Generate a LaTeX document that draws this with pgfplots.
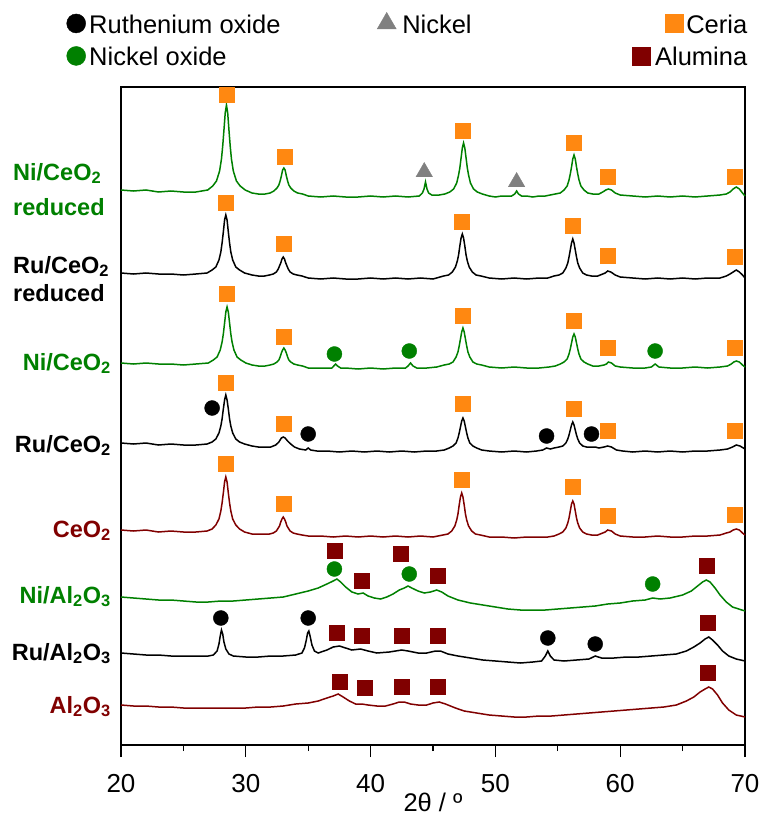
\documentclass[border=0pt]{standalone}
\usepackage{pgfplots}
\pgfplotsset{compat=1.18}
\usepackage{fontspec}
\setmainfont{Liberation Sans}
\definecolor{cgreen}{RGB}{0,128,0}
\definecolor{cred}{RGB}{128,0,0}
\definecolor{corange}{RGB}{255,136,17}
\definecolor{cgray}{RGB}{128,128,128}
\newcommand\fs{\fontsize{23.5bp}{28bp}\selectfont}
\newcommand\lf{\fontsize{25.5bp}{30bp}\selectfont\strut}
\begin{document}
\begin{tikzpicture}
\path[use as bounding box] (-121bp,-75bp) rectangle (641bp,745bp);
\begin{axis}[
  at={(0,0)}, anchor=south west,
  scale only axis, width=624bp, height=658bp,
  xmin=20, xmax=70, ymin=87, ymax=745, y dir=reverse,
  clip=false,
  xtick={20,30,...,70}, minor x tick num=1, xtick pos=left,
  ytick=\empty,
  tick align=outside,
  major tick length=12bp, minor tick length=6bp,
  every tick/.style={black, line width=1.3bp},
  axis line style={line width=1.7bp},
  /pgf/number format/assume math mode=true,
  xticklabel style={font=\fontsize{26bp}{30bp}\selectfont, yshift=-14bp},
  xlabel={2θ / º},
  xlabel style={at={(axis description cs:0.5,0)}, anchor=center, yshift=-57bp, font=\fontsize{25.5bp}{30bp}\selectfont},
  legend image code/.code={\draw[#1] plot coordinates {(0bp,0bp)};},
  legend columns=3,
  legend cell align=left,
  legend style={draw=none, fill=none, inner sep=0pt,
    at={(axis description cs:0,1)}, anchor=north west, xshift=-54.5bp, yshift=75bp,
    nodes={inner sep=0pt}, row sep=10bp, column sep=0pt},
]
\addlegendimage{mark=*, black, mark size=9.5bp}
\addlegendentry{\makebox[291.5bp][l]{\lf\hspace{3.5bp}Ruthenium oxide}}
\addlegendimage{mark=triangle*, cgray, mark size=11bp}
\addlegendentry{\makebox[236bp][l]{\lf\hspace{6bp}Nickel}}
\addlegendimage{legend image code/.code={\path[draw=none, fill=none] (-9bp,-9bp) rectangle (9bp,9bp); \draw[overlay, corange, mark=square*, mark size=9bp] plot coordinates {(33bp,0bp)};}}
\addlegendentry{\makebox[97bp][r]{\lf Ceria}}
\addlegendimage{mark=*, cgreen, mark size=9.5bp}
\addlegendentry{\makebox[291.5bp][l]{\lf\hspace{3.5bp}Nickel oxide}}
\addlegendimage{empty legend}
\addlegendentry{}
\addlegendimage{mark=square*, cred, mark size=9bp}
\addlegendentry{\makebox[97bp][r]{\lf Alumina}}

% T1 Ni/CeO2 reduced
\addplot[cgreen, line width=1.5bp, forget plot] coordinates {(20,190)(21,191)(22,190)(23,192)(24,191)(25,192)(26,192)(26.95,190)(27.35,186)(27.65,181)(27.9,171)(28.05,159)(28.15,146)(28.25,130)(28.35,113)(28.45,105)(28.55,113)(28.65,130)(28.75,146)(28.85,159)(29.0,171)(29.25,181)(29.55,186)(29.95,190)(30.5,193)(31,194)(31.55,194)(31.95,193)(32.25,191)(32.5,188)(32.65,185)(32.75,181)(32.85,176)(32.95,170)(33.05,168)(33.15,170)(33.25,176)(33.35,181)(33.45,185)(33.6,188)(33.85,191)(34.15,193)(34.55,194)(35,196)(36,197)(37,196)(38,197)(39,197)(40,196)(41,197)(42,196)(43,197)(43.9,196)(44.15,193)(44.28,189)(44.4,182)(44.52,189)(44.65,193)(44.9,195)(45.5,195)(45.95,194)(46.35,192)(46.65,189)(46.9,183)(47.05,175)(47.15,168)(47.25,158)(47.35,148)(47.45,143)(47.55,148)(47.65,158)(47.75,168)(47.85,175)(48.0,183)(48.25,189)(48.55,192)(48.95,194)(49.5,196)(50,197)(50.5,196)(51.3,196)(51.55,194)(51.7,191)(51.85,194)(52.1,196)(52.5,196)(53,197)(53.5,196)(54,196)(54.8,194)(55.2,193)(55.5,190)(55.75,186)(55.9,180)(56.0,174)(56.1,167)(56.2,159)(56.3,155)(56.4,159)(56.5,167)(56.6,174)(56.7,180)(56.85,186)(57.1,190)(57.4,193)(57.8,194)(58.3,194)(58.6,192)(58.85,190)(59.05,189)(59.3,190)(59.6,193)(60,195)(61,196)(62,197)(63,196)(64,197)(65,196)(66,197)(67,196)(68,195)(68.5,194)(68.8,192)(69.05,189)(69.3,187)(69.55,189)(69.8,193)(70,196)};
% T2 Ru/CeO2 reduced
\addplot[black, line width=1.5bp, forget plot] coordinates {(20,273)(21,274)(22,273)(23,274)(24,274)(25,275)(26,274)(26.9,273)(27.3,270)(27.6,267)(27.85,260)(28.0,252)(28.1,243)(28.2,232)(28.3,220)(28.4,215)(28.5,220)(28.6,232)(28.7,243)(28.8,252)(28.95,260)(29.2,267)(29.5,270)(29.9,273)(30.5,275)(31,276)(31.5,276)(31.9,275)(32.2,274)(32.45,272)(32.6,269)(32.7,266)(32.8,263)(32.9,259)(33.0,257)(33.1,259)(33.2,263)(33.3,266)(33.4,269)(33.55,272)(33.8,274)(34.1,275)(34.5,276)(35,278)(36,279)(37,278)(38,279)(39,279)(40,278)(41,279)(42,278)(43,279)(44,278)(45,279)(45.85,276)(46.25,275)(46.55,272)(46.8,267)(46.95,261)(47.05,255)(47.15,246)(47.25,238)(47.35,234)(47.45,238)(47.55,246)(47.65,255)(47.75,261)(47.9,267)(48.15,272)(48.45,275)(48.85,276)(49.5,278)(50.5,279)(51.5,278)(52.5,279)(53.5,278)(54.2,278)(54.7,276)(55.1,275)(55.4,273)(55.65,268)(55.8,263)(55.9,257)(56.0,250)(56.1,243)(56.2,239)(56.3,243)(56.4,250)(56.5,257)(56.6,263)(56.75,268)(57.0,273)(57.3,275)(57.7,276)(58.2,276)(58.6,274)(58.8,273)(59.0,271)(59.25,272)(59.6,275)(60,277)(61,278)(62,279)(63,278)(64,279)(65,278)(66,279)(67,278)(68,278)(68.5,276)(68.8,274)(69.05,272)(69.3,270)(69.55,272)(69.8,275)(70,278)};
% T3 Ni/CeO2
\addplot[cgreen, line width=1.5bp, forget plot] coordinates {(20,363)(21,364)(22,363)(23,364)(24,364)(25,365)(26,364)(27.0,363)(27.4,360)(27.7,357)(27.95,350)(28.1,342)(28.2,334)(28.3,323)(28.4,312)(28.5,307)(28.6,312)(28.7,323)(28.8,334)(28.9,342)(29.05,350)(29.3,357)(29.6,360)(30.0,363)(30.5,365)(31,366)(31.55,366)(31.95,365)(32.25,364)(32.5,362)(32.65,360)(32.75,357)(32.85,353)(32.95,350)(33.05,348)(33.15,350)(33.25,353)(33.35,357)(33.45,360)(33.6,362)(33.85,364)(34.15,365)(34.55,366)(35,368)(36,368)(36.9,368)(37.05,366)(37.2,364)(37.35,366)(37.6,368)(38,368)(39,369)(40,368)(41,369)(42,368)(42.8,368)(43.0,366)(43.2,363)(43.4,366)(43.7,368)(44.5,368)(45.3,367)(45.9,365)(46.3,364)(46.6,362)(46.85,357)(47.0,352)(47.1,346)(47.2,339)(47.3,332)(47.4,328)(47.5,332)(47.6,339)(47.7,346)(47.8,352)(47.95,357)(48.2,362)(48.5,364)(48.9,365)(49.5,367)(50.5,368)(51.5,367)(52.5,368)(53.5,368)(54.3,367)(54.8,366)(55.2,364)(55.5,362)(55.75,359)(55.9,354)(56.0,349)(56.1,343)(56.2,337)(56.3,334)(56.4,337)(56.5,343)(56.6,349)(56.7,354)(56.85,359)(57.1,362)(57.4,364)(57.8,366)(58.3,366)(58.7,365)(58.9,364)(59.05,362)(59.3,363)(59.6,366)(60,367)(61,368)(62,368)(62.5,367)(62.8,364)(63.1,367)(64,368)(65,368)(66,367)(67,368)(68,367)(68.6,366)(68.9,364)(69.1,362)(69.3,361)(69.55,362)(69.8,365)(70,367)};
% T4 Ru/CeO2
\addplot[black, line width=1.5bp, forget plot] coordinates {(20,443)(21,444)(22,443)(23,445)(24,444)(25,445)(26,445)(26.9,444)(27.3,442)(27.6,439)(27.85,433)(28.0,426)(28.1,419)(28.2,409)(28.3,400)(28.4,395)(28.5,400)(28.6,409)(28.7,419)(28.8,426)(28.95,433)(29.2,439)(29.5,442)(29.9,444)(30.5,446)(31,447)(31.5,447)(32.0,447)(32.4,445)(32.65,442)(32.85,438)(33.0,437)(33.15,438)(33.35,441)(33.6,444)(33.9,447)(34.3,449)(34.8,450)(35.0,448)(35.2,450)(35.7,451)(36.5,451)(37.5,452)(38.5,451)(39.5,452)(40.5,451)(41.5,452)(42.5,451)(43.5,452)(44.5,451)(45.3,451)(45.9,450)(46.3,448)(46.6,446)(46.85,443)(47.0,438)(47.1,433)(47.2,427)(47.3,421)(47.4,418)(47.5,421)(47.6,427)(47.7,433)(47.8,438)(47.95,443)(48.2,446)(48.5,448)(48.9,450)(49.5,451)(50.5,452)(51.5,451)(52.5,452)(53.3,451)(53.8,450)(54.1,448)(54.4,449)(54.7,448)(55.1,447)(55.4,446)(55.65,443)(55.8,439)(55.9,435)(56.0,430)(56.1,425)(56.2,422)(56.3,425)(56.4,430)(56.5,435)(56.6,439)(56.75,443)(57.0,446)(57.3,447)(57.7,447)(58.0,447)(58.3,448)(58.7,447)(59.0,446)(59.3,447)(59.7,450)(60.2,451)(61,452)(62,451)(63,452)(64,451)(65,452)(66,451)(67,451)(68,450)(68.6,449)(69.0,447)(69.3,445)(69.6,446)(70,449)};
% T5 CeO2
\addplot[cred, line width=1.5bp, forget plot] coordinates {(20,530)(21,531)(22,530)(23,532)(24,531)(25,532)(26,532)(26.9,531)(27.3,529)(27.6,525)(27.85,519)(28.0,511)(28.1,503)(28.2,493)(28.3,482)(28.4,477)(28.5,482)(28.6,493)(28.7,503)(28.8,511)(28.95,519)(29.2,525)(29.5,529)(29.9,532)(30.5,534)(31,534)(31.5,534)(31.9,534)(32.2,533)(32.45,531)(32.6,528)(32.7,526)(32.8,522)(32.9,519)(33.0,517)(33.1,519)(33.2,522)(33.3,526)(33.4,528)(33.55,531)(33.8,533)(34.1,534)(34.5,535)(35,536)(36,536)(37,537)(38,536)(39,537)(40,536)(41,537)(42,536)(43,537)(44,536)(45,537)(45.8,535)(46.2,534)(46.5,531)(46.75,526)(46.9,520)(47.0,514)(47.1,505)(47.2,497)(47.3,493)(47.4,497)(47.5,505)(47.6,514)(47.7,520)(47.85,526)(48.1,531)(48.4,534)(48.8,535)(49.5,537)(50.5,537)(51.5,538)(52.5,537)(53.5,537)(54.2,537)(54.7,536)(55.1,534)(55.4,532)(55.65,528)(55.8,523)(55.9,518)(56.0,511)(56.1,504)(56.2,501)(56.3,504)(56.4,511)(56.5,518)(56.6,523)(56.75,528)(57.0,532)(57.3,534)(57.7,535)(58.2,535)(58.6,533)(58.8,532)(59.0,530)(59.3,531)(59.6,534)(60,536)(61,537)(62,537)(63,536)(64,537)(65,537)(66,536)(67,536)(68,535)(68.5,533)(68.8,532)(69.05,530)(69.3,529)(69.55,530)(69.8,533)(70,535)};
% T6 Ni/Al2O3
\addplot[cgreen, line width=1.5bp, forget plot] coordinates {(20,597)(21,598)(22,599)(23,600)(24,600)(25,601)(26,602)(27,602)(28,601)(29,601)(30,600)(31,599)(32,598)(33,597)(34,594)(35,591)(35.8,588)(36.5,584)(37.0,581)(37.3,579)(37.6,582)(38.0,587)(38.5,592)(39.0,594)(39.4,593)(39.8,596)(40.3,598)(40.8,599)(41.3,597)(41.8,594)(42.3,590)(42.7,588)(43.0,586)(43.3,588)(43.8,591)(44.3,593)(44.8,592)(45.3,590)(45.7,592)(46.2,596)(47,600)(48,603)(49,605)(50,607)(51,609)(52,610)(53,610)(54,610)(55,609)(56,608)(57,607)(58,606)(59,604)(60,603)(61,601)(62,600)(62.6,598)(63.2,599)(64,598)(65,595)(65.7,591)(66.2,586)(66.6,582)(66.9,580)(67.2,582)(67.6,588)(68.0,595)(68.5,602)(69,607)(69.5,609)(70,611)};
% T7 Ru/Al2O3
\addplot[black, line width=1.5bp, forget plot] coordinates {(20,653)(21,654)(22,655)(23,655)(24,656)(25,656)(26,656)(27,656)(27.4,655)(27.7,651)(27.85,644)(27.95,636)(28.05,630)(28.15,634)(28.25,642)(28.4,649)(28.65,654)(29,656)(30,657)(31,657)(32,656)(33,656)(34,655)(34.5,653)(34.7,648)(34.85,640)(34.95,633)(35.05,631)(35.15,636)(35.3,645)(35.5,651)(35.8,653)(36.5,650)(37.0,647)(37.5,646)(38,648)(38.5,650)(39.2,649)(39.8,651)(40.5,653)(41.5,652)(42.0,651)(42.5,650)(43.0,651)(43.8,653)(44.5,653)(45.2,651)(45.6,651)(46.2,654)(47,656)(48,658)(49,660)(50,661)(51,662)(52,663)(53,662)(53.7,661)(54.0,656)(54.2,651)(54.4,656)(54.7,660)(55.5,661)(56.5,660)(57.5,659)(58.0,656)(58.5,658)(59.5,658)(60.5,657)(61.5,657)(62.5,656)(63.5,655)(64.5,654)(65.3,651)(65.9,647)(66.4,643)(66.8,639)(67.1,637)(67.4,640)(67.8,645)(68.2,651)(68.7,656)(69.3,659)(70,661)};
% T8 Al2O3
\addplot[cred, line width=1.5bp, forget plot] coordinates {(20,705)(21,706)(22,706)(23,707)(24,707)(25,708)(26,708)(27,708)(28,708)(29,708)(30,708)(31,707)(32,707)(33,706)(34,704)(35,703)(35.8,701)(36.5,698)(37.0,696)(37.4,694)(37.8,697)(38.3,701)(38.8,704)(39.3,704)(39.8,705)(40.5,706)(41.2,706)(41.8,704)(42.3,702)(42.7,702)(43.2,704)(43.8,705)(44.5,705)(45.0,703)(45.5,702)(46,704)(46.8,708)(47.5,711)(48.5,713)(49.5,715)(50.5,716)(51.5,717)(52.5,717)(53.5,716)(54.5,716)(55.5,715)(56.5,714)(57.5,713)(58.5,712)(59.5,711)(60.5,710)(61.5,709)(62.5,708)(63.5,707)(64.5,705)(65.3,701)(65.9,697)(66.4,692)(66.8,689)(67.1,687)(67.4,689)(67.8,695)(68.2,703)(68.7,710)(69.3,715)(70,717)};

% Ceria markers
\addplot[only marks, mark=square*, color=corange, mark size=7.5bp, forget plot] coordinates {
(28.5,95)(33.1,157)(47.4,131)(56.3,143)(59.0,177)(69.2,177)
(28.4,203)(33.0,244)(47.3,222)(56.2,226)(59.0,256)(69.2,257)
(28.5,294)(33.0,337)(47.4,316)(56.3,321)(59.0,348)(69.2,348)
(28.4,383)(33.0,424)(47.4,404)(56.3,409)(59.0,431)(69.2,431)
(28.4,464)(33.0,504)(47.3,480)(56.2,487)(59.0,516)(69.2,515)};
% Nickel markers
\addplot[only marks, mark=triangle*, color=cgray, mark size=9.5bp, forget plot] coordinates {(44.3,172)(51.7,182)};
% NiO markers
\addplot[only marks, mark=*, color=cgreen, mark size=7.5bp, forget plot] coordinates {(37.1,354)(43.1,351)(62.8,351)(37.1,569)(43.1,574)(62.6,584)};
% RuO2 markers
\addplot[only marks, mark=*, color=black, mark size=7.5bp, forget plot] coordinates {(27.3,408)(35.0,434)(54.1,436)(57.7,434)(28.0,618)(35.0,618)(54.2,638)(58.0,644)};
% Alumina markers
\addplot[only marks, mark=square*, color=cred, mark size=7.5bp, forget plot] coordinates {
(37.1,551)(39.3,581)(42.4,554)(45.4,576)(66.9,566)
(37.3,633)(39.3,636)(42.5,636)(45.4,636)(67.0,623)
(37.5,682)(39.5,688)(42.5,687)(45.4,687)(67.0,673)};

% sample labels
\begin{scope}[every node/.style={font=\fs\bfseries, inner sep=0pt}]
\node[anchor=base west, cgreen] at (axis cs:20,180) [xshift=-108bp] {Ni/CeO\textsubscript{2}};
\node[anchor=base west, cgreen] at (axis cs:20,215) [xshift=-108bp] {reduced};
\node[anchor=base west, black] at (axis cs:20,273) [xshift=-108bp] {Ru/CeO\textsubscript{2}};
\node[anchor=base west, black] at (axis cs:20,301) [xshift=-108bp] {reduced};
\node[anchor=base east, cgreen] at (axis cs:20,370) [xshift=-10bp] {Ni/CeO\textsubscript{2}};
\node[anchor=base east, black] at (axis cs:20,452) [xshift=-10bp] {Ru/CeO\textsubscript{2}};
\node[anchor=base east, cred] at (axis cs:20,537) [xshift=-10bp] {CeO\textsubscript{2}};
\node[anchor=base east, cgreen] at (axis cs:20,603) [xshift=-10bp] {Ni/Al\textsubscript{2}O\textsubscript{3}};
\node[anchor=base east, black] at (axis cs:20,660) [xshift=-10bp] {Ru/Al\textsubscript{2}O\textsubscript{3}};
\node[anchor=base east, cred] at (axis cs:20,713) [xshift=-10bp] {Al\textsubscript{2}O\textsubscript{3}};
\end{scope}
\end{axis}
\end{tikzpicture}
\end{document}
